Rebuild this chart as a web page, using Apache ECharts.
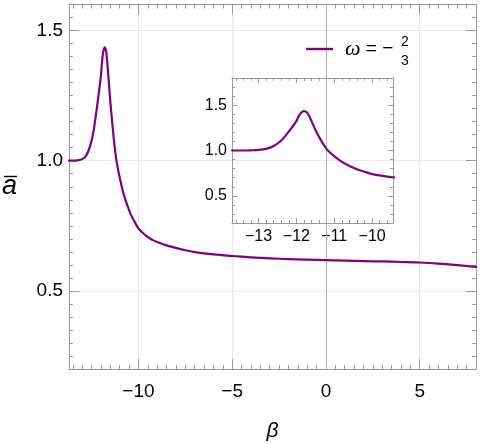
<!DOCTYPE html>
<html>
<head>
<meta charset="utf-8">
<script src="https://cdn.jsdelivr.net/npm/echarts@6/dist/echarts.min.js"></script>
<style>
html,body{margin:0;padding:0;background:#fff;}
#main{width:480px;height:444px;}
</style>
</head>
<body>
<div id="main"></div>
<script>
/*曲线数据 β -> ā*/
var beta = [-13.7, -13.4, -13.2, -13.0, -12.8, -12.6, -12.4, -12.2, -12.0, -11.95, -11.88, -11.8, -11.72, -11.65, -11.5, -11.4, -11.3, -11.2, -11.1, -11.0, -10.8, -10.6, -10.4, -10.2, -10.0, -9.8, -9.6, -9.4, -9.2, -9.0, -8.5, -8.0, -7.5, -7.0, -6.0, -5.0, -4.0, -3.0, -2.0, -1.0, 0.0, 1.0, 2.0, 3.0, 4.0, 5.0, 6.0, 7.0, 8.0];
var abar = [1.0, 1.0, 1.002, 1.006, 1.018, 1.05, 1.11, 1.21, 1.325, 1.37, 1.415, 1.435, 1.42, 1.37, 1.23, 1.15, 1.075, 1.015, 0.972, 0.937, 0.875, 0.83, 0.793, 0.765, 0.740, 0.725, 0.712, 0.702, 0.694, 0.688, 0.675, 0.665, 0.656, 0.649, 0.640, 0.634, 0.629, 0.625, 0.622, 0.620, 0.618, 0.616, 0.614, 0.613, 0.611, 0.609, 0.605, 0.599, 0.592];
var seriesName = 'ω = −2/3';

/*刻度*/
var mainXTicks = [-10, -5, 0, 5];
var mainYTicks = [0.5, 1.0, 1.5];
var insetXTicks = [-13, -12, -11, -10];
var insetYTicks = [0.5, 1.0, 1.5];

var FONT = '"Liberation Sans", Arial, sans-serif';
var frameColor = '#999999';

function fmt(v, d){
    var s = Math.abs(v).toFixed(d);
    return v < 0 ? '\u2212' + s : s;
}

function steps(min, max, step){
    var out = [];
    var n0 = Math.ceil(min / step - 1e-9), n1 = Math.floor(max / step + 1e-9);
    for (var i = n0; i <= n1; i++) out.push(+(i * step).toFixed(4));
    return out;
}

/*一组坐标轴: 带标签的, 对面的, 以及次刻度*/
function axisSet(dim, grid, o){
    var pos = dim == 'x' ? ['bottom', 'top'] : ['left', 'right'];
    var minor = steps(o.min, o.max, o.minor);
    var list = [];
    for (var k = 0; k < 2; k++) {
        list.push({
            type: 'value', gridIndex: grid, position: pos[k],
            min: o.min, max: o.max, minInterval: o.step, maxInterval: o.step,
            name: k == 0 ? o.name : '',
            nameLocation: 'middle', nameGap: o.nameGap, nameRotate: 0,
            nameTextStyle: {fontSize: o.nameSize, fontStyle: 'italic', color: '#000', fontFamily: FONT, padding: o.namePad || 0},
            axisLine: {show: true, onZero: false, lineStyle: {color: frameColor, width: 1}},
            axisTick: {show: true, inside: true, length: o.majorLen, customValues: o.ticks, lineStyle: {color: frameColor}},
            axisLabel: {show: k == 0, customValues: o.ticks, margin: o.margin, fontSize: o.fontSize, color: '#000', fontFamily: FONT,
                formatter: function(v){ return fmt(v, o.digits); }},
            splitLine: {show: k == 0 && o.split, lineStyle: {color: '#e8e8e8', width: 1}}
        });
        list.push({
            type: 'value', gridIndex: grid, position: pos[k], min: o.min, max: o.max,
            axisLine: {show: false, onZero: false},
            axisTick: {show: true, inside: true, length: o.minorLen, customValues: minor, lineStyle: {color: frameColor}},
            axisLabel: {show: false}, splitLine: {show: false}
        });
    }
    return list;
}

var xAxes = axisSet('x', 0, {min: -13.7, max: 8, step: 5, minor: 0.5, ticks: mainXTicks, digits: 0, majorLen: 10, minorLen: 4,
        margin: 13, fontSize: 19, split: true, name: 'β', nameGap: 52, nameSize: 21})
    .concat(axisSet('x', 1, {min: -13.7, max: -9.45, step: 1, minor: 0.2, ticks: insetXTicks, digits: 0, majorLen: 5, minorLen: 3,
        margin: 6, fontSize: 16, split: false, name: '', nameGap: 0, nameSize: 12}));
var yAxes = axisSet('y', 0, {min: 0.2, max: 1.6, step: 0.5, minor: 0.05, ticks: mainYTicks, digits: 1, majorLen: 10, minorLen: 4,
        margin: 6, fontSize: 19, split: true, name: 'a', nameGap: 52, nameSize: 27, namePad: [13, 0, 0, 0]})
    .concat(axisSet('y', 1, {min: 0.2, max: 1.8, step: 0.5, minor: 0.1, ticks: insetYTicks, digits: 1, majorLen: 5, minorLen: 3,
        margin: 5, fontSize: 16, split: false, name: '', nameGap: 0, nameSize: 12}));

var points = [];
for (var i = 0; i < beta.length; i++) points.push([beta[i], abar[i]]);

var myChart = echarts.init(document.getElementById('main'), null, {renderer: 'canvas'});
myChart.setOption({
    backgroundColor: '#fff',
    animation: false,
    textStyle: {fontFamily: FONT},
    grid: [
        {left: 69, right: 4, top: 4.5, bottom: 75, outerBoundsMode: 'none', containLabel: false},
        {left: 232, right: 87, top: 78, bottom: 221, outerBoundsMode: 'none', containLabel: false}
    ],
    legend: {
        data: [seriesName], left: 306, top: 38, padding: 0,
        icon: 'rect', itemWidth: 27, itemHeight: 2.4,
        formatter: function(){ return '{w|ω} = −'; },
        textStyle: {fontSize: 19, color: '#000', fontFamily: FONT,
            rich: {w: {fontSize: 22, fontStyle: 'italic', fontFamily: '"Liberation Serif", serif', padding: [0, 0, 0, 7]}}}
    },
    graphic: [
        {type: 'text', left: 401, top: 35, style: {text: '2', fontSize: 14, fill: '#000', fontFamily: FONT}},
        {type: 'text', left: 401, top: 54, style: {text: '3', fontSize: 14, fill: '#000', fontFamily: FONT}},
        /*ā 上横线*/
        {type: 'line', shape: {x1: 4, y1: 176.5, x2: 17, y2: 176.5}, style: {stroke: '#000', lineWidth: 1.4}}
    ],
    xAxis: xAxes,
    yAxis: yAxes,
    series: [
        {
            name: seriesName, type: 'line', xAxisIndex: 0, yAxisIndex: 0,
            data: points, symbol: 'none', showSymbol: false, smooth: 0.3,
            lineStyle: {color: '#800080', width: 2.2, cap: 'round', join: 'round'}, itemStyle: {color: '#800080'},
            markLine: {silent: true, symbol: 'none', label: {show: false}, z: 1,
                lineStyle: {color: '#b4b4b4', width: 1, type: 'solid'}, data: [{xAxis: 0}]},
            z: 3
        },
        {
            name: 'inset', type: 'line', xAxisIndex: 4, yAxisIndex: 4,
            data: points, symbol: 'none', showSymbol: false, smooth: 0.3, clip: true,
            lineStyle: {color: '#800080', width: 2.2, cap: 'round', join: 'round'}, itemStyle: {color: '#800080'}, z: 3
        }
    ]
});
</script>
</body>
</html>
